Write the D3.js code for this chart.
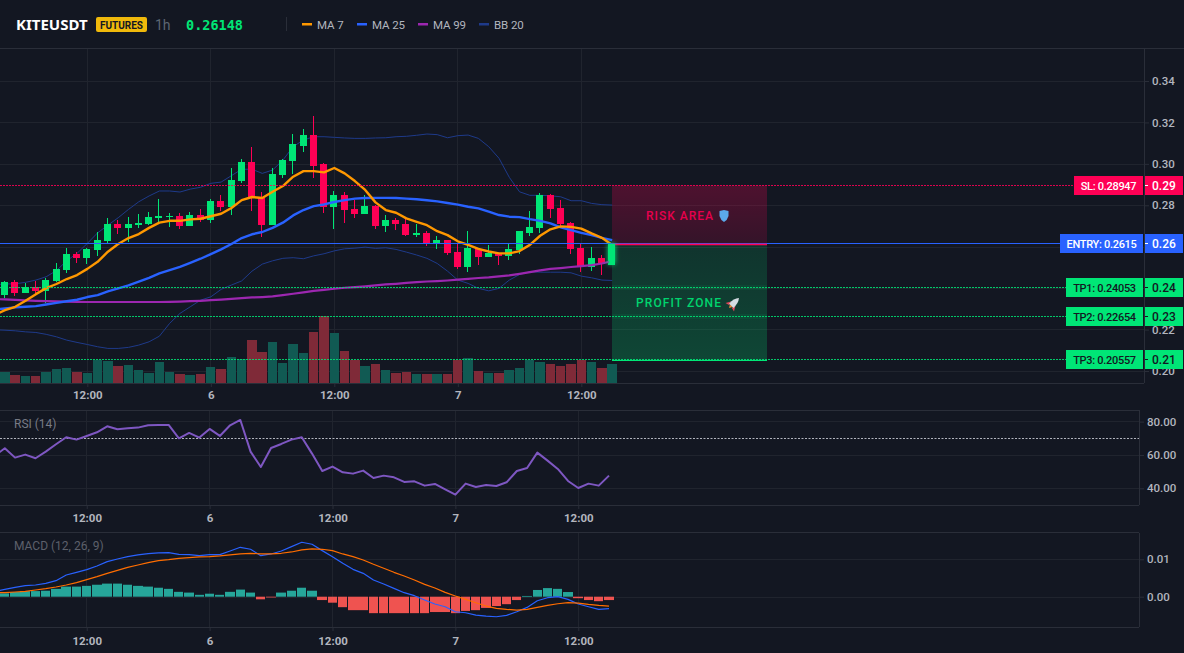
<!DOCTYPE html>
<html>
<head>
<meta charset="utf-8">
<script src="https://cdn.jsdelivr.net/npm/d3@7"></script>
<style>
html, body { margin: 0; padding: 0; background: #131722; overflow: hidden; }
svg { display: block; }
text { font-family: Roboto, sans-serif; }
</style>
</head>
<body>
<script>
var w = 1184;
var h = 653;

// candles
var opens = [.2366,.2429,.2376,.2405,.2386,.2434,.2487,.2564,.2545,.2584,
    .2627,.2709,.2690,.2704,.2709,.2738,.2743,.2748,.2700,.2753,
    .2729,.2820,.2791,.2917,.3009,.2835,.2704,.2946,.3013,.3086,
    .3139,.2999,.2791,.2849,.2782,.2758,.2796,.2700,.2729,.2709,
    .2656,.2666,.2613,.2632,.2574,.2502,.2589,.2550,.2569,.2555,
    .2584,.2666,.2690,.2849,.2786,.2714,.2593,.2502,.2545,.2516];
var highs = [.2434,.2439,.2424,.2434,.2449,.2521,.2593,.2574,.2593,.2671,
    .2738,.2729,.2743,.2758,.2767,.2830,.2762,.2762,.2767,.2782,
    .2830,.2849,.2980,.3023,.3081,.2864,.2980,.3023,.3144,.3168,
    .3231,.3004,.2869,.2864,.2825,.2849,.2801,.2753,.2738,.2733,
    .2709,.2676,.2651,.2632,.2613,.2676,.2589,.2608,.2569,.2618,
    .2676,.2772,.2859,.2854,.2825,.2719,.2613,.2598,.2560,.2615];
var lows = [.2352,.2362,.2376,.2366,.2328,.2429,.2473,.2521,.2516,.2555,
    .2613,.2661,.2622,.2690,.2704,.2719,.2695,.2685,.2700,.2719,
    .2714,.2772,.2753,.2907,.2772,.2647,.2704,.2931,.2951,.3057,
    .2931,.2762,.2685,.2714,.2738,.2758,.2685,.2671,.2680,.2651,
    .2647,.2603,.2589,.2560,.2492,.2477,.2511,.2550,.2511,.2535,
    .2564,.2651,.2666,.2738,.2700,.2564,.2477,.2482,.2463,.2516];
var closes = [.2429,.2376,.2405,.2386,.2439,.2492,.2564,.2545,.2589,.2632,
    .2709,.2690,.2709,.2714,.2743,.2748,.2748,.2700,.2753,.2729,
    .2820,.2791,.2922,.3009,.2835,.2704,.2951,.3018,.3096,.3139,
    .2989,.2791,.2849,.2777,.2758,.2796,.2700,.2729,.2709,.2656,
    .2666,.2613,.2632,.2569,.2502,.2593,.2550,.2569,.2555,.2589,
    .2676,.2695,.2849,.2782,.2709,.2589,.2502,.2545,.2516,.2615];
var volumes = [34,24,22,22,34,43,46,34,31,70,67,52,55,40,31,64,34,28,25,28,
    49,43,79,73,130,94,124,61,118,91,154,202,151,97,70,52,58,40,31,34,
    28,28,28,28,70,76,37,31,31,40,46,70,64,58,52,58,70,64,46,58];

// the line series start one bar left of the first candle (index -1)
var ma7 = [.2270,.2294,.2310,.2339,.2371,.2400,.2420,.2444,.2463,.2493,.2527,
    .2576,.2613,.2642,.2661,.2691,.2716,.2725,.2725,.2732,.2735,
    .2747,.2759,.2787,.2825,.2840,.2835,.2865,.2893,.2938,.2965,
    .2965,.2959,.2980,.2954,.2917,.2874,.2814,.2777,.2764,.2737,
    .2720,.2704,.2675,.2656,.2626,.2609,.2590,.2577,.2568,.2568,
    .2579,.2609,.2653,.2684,.2698,.2696,.2687,.2664,.2643,.2608];
var ma25 = [.2296,.2302,.2307,.2310,.2313,.2321,.2329,.2337,.2344,.2357,.2366,
    .2384,.2399,.2413,.2431,.2450,.2471,.2487,.2503,.2522,.2542,.2564,
    .2587,.2613,.2642,.2660,.2671,.2691,.2716,.2751,.2777,.2796,
    .2804,.2816,.2825,.2832,.2835,.2836,.2836,.2835,.2832,
    .2829,.2824,.2819,.2811,.2803,.2793,.2785,.2769,.2753,.2745,
    .2743,.2733,.2725,.2713,.2693,.2680,.2667,.2656,.2643,.2632];
var ma99 = [.2347,.2346,.2343,.2341,.2339,.2337,.2336,.2335,.2334,.2333,.2333,
    .2333,.2333,.2333,.2333,.2333,.2333,.2334,.2335,.2337,.2339,.2342,
    .2345,.2348,.2352,.2355,.2357,.2360,.2366,.2373,.2380,.2387,
    .2392,.2397,.2402,.2405,.2409,.2413,.2418,.2421,.2425,
    .2429,.2432,.2434,.2437,.2441,.2445,.2449,.2452,.2457,.2462,
    .2469,.2477,.2486,.2493,.2497,.2502,.2506,.2511,.2519,.2531];
var bbUpper = [.2417,.2420,.2421,.2428,.2439,.2455,.2485,.2532,.2568,.2616,.2667,
    .2704,.2740,.2780,.2817,.2845,.2869,.2869,.2864,.2878,.2887,.2906,
    .2912,.2943,.2974,.2974,.2954,.2970,.3018,.3083,.3115,.3131,
    .3131,.3128,.3125,.3123,.3123,.3125,.3126,.3131,.3133,
    .3138,.3144,.3141,.3126,.3136,.3139,.3123,.3083,.3027,.2935,
    .2865,.2848,.2848,.2846,.2841,.2822,.2822,.2809,.2803,.2801];
var bbLower = [.2199,.2197,.2194,.2189,.2186,.2177,.2165,.2149,.2138,.2128,.2117,
    .2109,.2109,.2114,.2125,.2141,.2168,.2230,.2278,.2310,.2342,.2358,
    .2394,.2415,.2435,.2482,.2516,.2532,.2544,.2547,.2542,.2556,
    .2566,.2580,.2590,.2593,.2598,.2592,.2595,.2587,.2574,
    .2560,.2544,.2519,.2482,.2439,.2423,.2399,.2387,.2399,.2439,
    .2466,.2479,.2477,.2477,.2477,.2474,.2458,.2450,.2439,.2437];

var rsi = [59.4,64,58.4,60.2,58,62,66.4,70.6,69.2,71.4,73.6,
    77.2,75.4,76,76.4,77.8,78,78,70,73.2,70.4,75.6,
    71.4,77.8,81,62,52.8,64.2,66.6,69.2,70.6,60.8,
    50.4,53,49.6,48.8,50.6,46.2,47.6,46.6,43.8,
    44.2,41.6,42.6,39.4,36.2,42.8,40.8,42,41.4,43.6,
    50.4,52.2,61.4,56.6,51.6,44.4,40.2,42.8,41.6,47.6];

var macdLine = [.00143,.00196,.0025,.00295,.00313,.00357,.00429,.0058,.00652,.00723,.00821,
    .00938,.01009,.01071,.01116,.01152,.0117,.01179,.01134,.01125,.01098,.01125,
    .01125,.01223,.01321,.01268,.01098,.01143,.01223,.01339,.01455,.01402,
    .01232,.01071,.00893,.00732,.00625,.00446,.00339,.00223,.00107,
    .00027,-.00089,-.00196,-.00268,-.00402,-.00429,-.00491,-.00518,-.00536,-.005,
    -.00402,-.00286,-.00107,-.00027,0,-.00071,-.00196,-.00268,-.00339,-.00321];
var macdSignal = [.00107,.00107,.00125,.00143,.00179,.00214,.00259,.00313,.00375,.00455,.00536,
    .00625,.00705,.00786,.00848,.00911,.00964,.00991,.01027,.01045,.01063,.01071,
    .01089,.01116,.01143,.01161,.01143,.01143,.01161,.01196,.0125,.01277,
    .01268,.01232,.01143,.01071,.00982,.00866,.00759,.00652,.00554,
    .00446,.0033,.00232,.00116,.00018,-.00071,-.00161,-.0025,-.00313,-.00339,
    -.00357,-.00339,-.00286,-.00232,-.00188,-.00161,-.0017,-.00205,-.00232,-.0025];
var macdHist = [.0009,.00125,.0015,.0015,.0016,.0021,.0027,.0027,.0029,.0032,
    .0035,.0035,.0032,.0029,.0027,.0024,.0021,.0013,.0011,.0005,
    .0008,.0005,.0013,.0019,.0011,-.0007,-.0002,.0011,.0016,.0024,
    .0016,-.0009,-.0016,-.0028,-.0036,-.0036,-.0044,-.0044,-.0044,-.0044,
    -.0044,-.0044,-.0041,-.0041,-.0044,-.0038,-.0036,-.0030,-.0025,-.0020,
    -.0009,.0002,.0018,.0023,.0021,.00125,-.0004,-.0009,-.0012,-.0009];

var priceGrid = [0.34, 0.32, 0.30, 0.28, 0.26, 0.24, 0.22, 0.20];
// 0.26 and 0.24 sit fully under the level tags, so only the others get a label
var priceTicks = [0.34, 0.32, 0.30, 0.28, 0.22, 0.20];
var rsiTicks = [80, 60, 40];
var macdTicks = [0.01, 0];
var timeTickIndex = [8, 20, 32, 44, 56];
var timeTickLabels = ["12:00", "6", "12:00", "7", "12:00"];

var levelNames = ["SL", "ENTRY", "TP1", "TP2", "TP3"];
var levelValues = [0.28947, 0.2615, 0.24053, 0.22654, 0.20557];
var levelRounded = ["0.29", "0.26", "0.24", "0.23", "0.21"];
var levelColors = ["#ff0055", "#2962ff", "#00e676", "#00e676", "#00e676"];
var levelTextColors = ["#ffffff", "#ffffff", "#131722", "#131722", "#131722"];
var levelLabelLeft = [1074, 1060, 1066, 1066, 1066];

var legendNames = ["MA 7", "MA 25", "MA 99", "BB 20"];
var legendColors = ["#ff9800", "#2962ff", "#9c27b0", "#1e3a8a"];
var legendLeft = [302, 357, 418, 479];

var gridColor = "#20242e";
var borderColor = "#2a2e39";
var labelColor = "#b2b5be";

var svg = d3.select("body")
    .append("svg")
    .attr("width", w)
    .attr("height", h);

var defs = svg.append("defs");
defs.append("clipPath").attr("id", "mainClip").append("rect")
    .attr("x", 0).attr("y", 48).attr("width", 1144).attr("height", 335);

var riskGrad = defs.append("linearGradient").attr("id", "riskGrad")
    .attr("x1", 0).attr("x2", 0).attr("y1", 0).attr("y2", 1);
riskGrad.append("stop").attr("offset", "0%").attr("stop-color", "#ff0055").attr("stop-opacity", 0.25);
riskGrad.append("stop").attr("offset", "100%").attr("stop-color", "#ff0055").attr("stop-opacity", 0.14);
var profitGrad = defs.append("linearGradient").attr("id", "profitGrad")
    .attr("x1", 0).attr("x2", 0).attr("y1", 0).attr("y2", 1);
profitGrad.append("stop").attr("offset", "0%").attr("stop-color", "#00e676").attr("stop-opacity", 0.14);
profitGrad.append("stop").attr("offset", "100%").attr("stop-color", "#00e676").attr("stop-opacity", 0.23);
defs.append("filter").attr("id", "glow")
    .attr("x", "-150%").attr("y", "-30%").attr("width", "400%").attr("height", "160%")
    .append("feGaussianBlur").attr("stdDeviation", 2.5);

// scales
var x = d3.scaleLinear().domain([0, 59]).range([5, 612.2]);
var subX = d3.scaleLinear().domain([0, 59]).range([4.8, 609]);
var y = d3.scaleLinear().domain([0.34, 0.20]).range([81, 371]);
var volY = d3.scaleLinear().domain([0, 202]).range([383.3, 316]);
var rsiY = d3.scaleLinear().domain([80, 40]).range([421.6, 488.3]);
var macdY = d3.scaleLinear().domain([0.01, 0]).range([559.3, 596.7]);

function pixelRow(v) { return Math.round(v - 0.2) + 0.5; }
function candleCol(i) { return Math.floor(x(i) - 0.4); }

// header
var head = svg.append("g");
head.append("text").attr("x", 16).attr("y", 30)
    .style("font-family", "'Noto Sans', sans-serif")
    .attr("font-size", 15).attr("font-weight", 700).attr("fill", "#ffffff")
    .text("KITEUSDT");
head.append("rect").attr("x", 96).attr("y", 17).attr("width", 51).attr("height", 15)
    .attr("rx", 2).attr("fill", "#f0b90b");
head.append("text").attr("x", 121.5).attr("y", 28.5).attr("text-anchor", "middle")
    .attr("font-size", 10).attr("font-weight", 700).attr("fill", "#131722")
    .text("FUTURES");
head.append("text").attr("x", 155).attr("y", 30)
    .attr("font-size", 14).attr("fill", "#5d6673")
    .text("1h");
head.append("text").attr("x", 186).attr("y", 29.5)
    .style("font-family", "'DejaVu Sans Mono', monospace")
    .attr("font-size", 13.5).attr("font-weight", 700).attr("fill", "#00e676")
    .text("0.26148");
head.append("line").attr("x1", 286.5).attr("x2", 286.5).attr("y1", 17).attr("y2", 31)
    .attr("stroke", borderColor);

var legend = head.selectAll("g.legend").data(legendNames).enter().append("g")
    .attr("class", "legend")
    .attr("transform", function(d, i) { return "translate(" + legendLeft[i] + ",0)"; });
legend.append("rect").attr("y", 23).attr("width", 10).attr("height", 2.5)
    .attr("fill", function(d, i) { return legendColors[i]; });
legend.append("text").attr("x", 15).attr("y", 28.5)
    .attr("font-size", 11.5).attr("letter-spacing", -0.1).attr("fill", labelColor)
    .text(function(d) { return d; });

// axes with the grid lines drawn as long lines
function priceAxis(g, scale, gridTicks, ticks, fmt, left, right) {
    var axis = d3.axisRight(scale).tickValues(ticks).tickFormat(fmt).tickSize(5).tickPadding(3);
    var a = g.append("g").attr("transform", "translate(" + right + ",0)").call(axis);
    a.select(".domain").remove();
    a.selectAll("line").attr("stroke", borderColor);
    a.selectAll("text").attr("fill", labelColor).attr("font-size", 11.5).attr("font-weight", 500)
        .style("font-family", "Roboto, sans-serif");
    g.append("g").selectAll("line").data(gridTicks).enter().append("line")
        .attr("x1", left).attr("x2", right)
        .attr("y1", function(d) { return pixelRow(scale(d)); })
        .attr("y2", function(d) { return pixelRow(scale(d)); })
        .attr("stroke", gridColor);
}
function timeAxis(g, scale, top, bottom, padding) {
    var axis = d3.axisBottom(scale).tickValues(timeTickIndex)
        .tickFormat(function(d, i) { return timeTickLabels[i]; })
        .tickSize(4).tickPadding(padding);
    var a = g.append("g").attr("transform", "translate(0," + bottom + ")").call(axis);
    a.select(".domain").remove();
    a.selectAll("line").attr("stroke", borderColor);
    a.selectAll("text").attr("fill", labelColor).attr("font-size", 11.5).attr("font-weight", 700)
        .style("font-family", "Roboto, sans-serif");
    g.append("g").selectAll("line").data(timeTickIndex).enter().append("line")
        .attr("x1", function(d) { return Math.floor(scale(d)) + 0.5; })
        .attr("x2", function(d) { return Math.floor(scale(d)) + 0.5; })
        .attr("y1", top).attr("y2", bottom)
        .attr("stroke", gridColor);
}

var fmt2 = d3.format(".2f");

// main pane
var grid = svg.append("g");
priceAxis(grid, y, priceGrid, priceTicks, fmt2, 0, 1144);
timeAxis(grid, x, 48, 383, 4);

var main = svg.append("g").attr("clip-path", "url(#mainClip)");

var upColor = "#00e676";
var downColor = "#ff0055";
function isUp(i) { return closes[i] >= opens[i]; }
var bars = d3.range(opens.length);

main.append("g").selectAll("rect").data(bars).enter().append("rect")
    .attr("x", function(i) { return Math.round(x(i) - 4.8); })
    .attr("width", function(i) { return Math.round(x(i) + 4.6) - Math.round(x(i) - 4.8); })
    .attr("y", function(i) { return Math.round(volY(volumes[i])); })
    .attr("height", function(i) { return 383 - Math.round(volY(volumes[i])); })
    .attr("fill", function(i) { return isUp(i) ? "#115a53" : "#7f2a38"; });

// price lines
var levels = svg.append("g");
levelValues.forEach(function(v, i) {
    levels.append("line")
        .attr("x1", 0).attr("x2", levelLabelLeft[i])
        .attr("y1", pixelRow(y(v))).attr("y2", pixelRow(y(v)))
        .attr("stroke", levelColors[i])
        .attr("stroke-opacity", levelNames[i] == "ENTRY" ? 1 : 0.85)
        .attr("stroke-dasharray", levelNames[i] == "ENTRY" ? null : "2,1");
});

// moving averages and bands
function lineOf(scale, xs) {
    return d3.line()
        .x(function(d, i) { return xs(i - 1); })
        .y(function(d) { return scale(d); });
}
var priceLine = lineOf(y, x);
function drawLine(g, values, gen, color, width) {
    g.append("path").attr("d", gen(values))
        .attr("fill", "none").attr("stroke", color).attr("stroke-width", width)
        .attr("stroke-linejoin", "round");
}
drawLine(main, bbUpper, priceLine, "#1e3a8a", 1);
drawLine(main, bbLower, priceLine, "#1e3a8a", 1);

// candles
var candles = main.append("g").selectAll("g").data(bars).enter().append("g");
candles.append("line")
    .attr("x1", function(i) { return candleCol(i) + 0.5; })
    .attr("x2", function(i) { return candleCol(i) + 0.5; })
    .attr("y1", function(i) { return Math.round(y(highs[i])); })
    .attr("y2", function(i) { return Math.round(y(lows[i])); })
    .attr("stroke", function(i) { return isUp(i) ? upColor : downColor; });
candles.append("rect")
    .attr("x", function(i) { return candleCol(i) - 3; })
    .attr("width", 7)
    .attr("y", function(i) { return Math.round(y(Math.max(opens[i], closes[i]))); })
    .attr("height", function(i) { return Math.max(1, Math.round(Math.abs(y(opens[i]) - y(closes[i])))); })
    .attr("fill", function(i) { return isUp(i) ? upColor : downColor; });

drawLine(main, ma99, priceLine, "#9c27b0", 2.2);
drawLine(main, ma25, priceLine, "#2962ff", 2.4);
drawLine(main, ma7, priceLine, "#ff9800", 2.4);

// risk and profit boxes
var boxLeft = 612;
var boxRight = 767;
var slY = pixelRow(y(levelValues[0]));
var entryY = pixelRow(y(levelValues[1])) + 1;
var tp3Y = pixelRow(y(levelValues[4])) + 1;
var zones = svg.append("g");
zones.append("rect").attr("x", boxLeft).attr("width", boxRight - boxLeft)
    .attr("y", slY).attr("height", entryY - slY).attr("fill", "url(#riskGrad)");
zones.append("rect").attr("x", boxLeft).attr("width", boxRight - boxLeft)
    .attr("y", entryY).attr("height", tp3Y - entryY).attr("fill", "url(#profitGrad)");
// soft bands where the TP lines run behind the box
[levelValues[2], levelValues[3]].forEach(function(v) {
    zones.append("line").attr("x1", boxLeft).attr("x2", boxRight)
        .attr("y1", pixelRow(y(v))).attr("y2", pixelRow(y(v)))
        .attr("stroke", "#00e676").attr("stroke-opacity", 0.07).attr("stroke-width", 5);
});
zones.append("line").attr("x1", boxLeft).attr("x2", boxRight)
    .attr("y1", entryY).attr("y2", entryY)
    .attr("stroke", "#ff0055").attr("stroke-width", 1.5);
zones.append("line").attr("x1", boxLeft).attr("x2", boxRight)
    .attr("y1", tp3Y).attr("y2", tp3Y)
    .attr("stroke", "#00e676").attr("stroke-width", 1.2);
zones.append("text").attr("x", 646).attr("y", 220)
    .attr("font-size", 12).attr("font-weight", 500).attr("letter-spacing", 1)
    .attr("fill", "#e6004d").text("RISK AREA");
zones.append("text").attr("x", 636).attr("y", 307)
    .attr("font-size", 12).attr("font-weight", 500).attr("letter-spacing", 1.1)
    .attr("fill", "#00d46e").text("PROFIT ZONE");

// shield and rocket icons
zones.append("path")
    .attr("transform", "translate(724,216)")
    .attr("d", "M-4.5,-5 L0,-6 L4.5,-5 L4.5,0 Q3.5,4 0,6 Q-3.5,4 -4.5,0 Z")
    .attr("fill", "#5ba8ea");
var rocket = zones.append("g").attr("transform", "translate(734,303) rotate(45)");
rocket.append("path").attr("d", "M-3,1 L-6,6 L-2,5 Z M3,1 L6,6 L2,5 Z").attr("fill", "#e0455a");
rocket.append("path").attr("d", "M0,-7 Q3.5,-3 3,4 L-3,4 Q-3.5,-3 0,-7 Z").attr("fill", "#d5dbe3");
rocket.append("path").attr("d", "M-1.8,4 L1.8,4 L0,7 Z").attr("fill", "#f08a3c");

// glow on the last candle
var last = opens.length - 1;
var glowG = svg.append("g");
glowG.append("rect")
    .attr("x", candleCol(last) - 3).attr("width", 7)
    .attr("y", y(closes[last]))
    .attr("height", y(opens[last]) - y(closes[last]))
    .attr("fill", upColor).attr("filter", "url(#glow)");
glowG.append("rect")
    .attr("x", candleCol(last) - 2).attr("width", 6)
    .attr("y", Math.round(y(closes[last])))
    .attr("height", Math.round(y(opens[last]) - y(closes[last])))
    .attr("fill", upColor);

// level tags on the right
var tags = svg.append("g");
levelValues.forEach(function(v, i) {
    var label = levelNames[i] + ": " + v;
    var cy = pixelRow(y(v));
    tags.append("rect").attr("x", levelLabelLeft[i]).attr("width", 1143 - levelLabelLeft[i])
        .attr("y", cy - 9.5).attr("height", 19).attr("fill", levelColors[i]);
    tags.append("text").attr("x", (levelLabelLeft[i] + 1143) / 2).attr("y", cy + 4)
        .attr("text-anchor", "middle").attr("font-size", 11).attr("letter-spacing", -0.3)
        .attr("font-weight", 500)
        .attr("fill", levelTextColors[i]).text(label);
    tags.append("rect").attr("x", 1144).attr("width", 39)
        .attr("y", cy - 9.5).attr("height", 19).attr("fill", levelColors[i]);
    tags.append("line").attr("x1", 1144).attr("x2", 1148).attr("y1", cy).attr("y2", cy)
        .attr("stroke", levelTextColors[i]);
    tags.append("text").attr("x", 1152).attr("y", cy + 4.3)
        .attr("font-size", 12).attr("font-weight", 500)
        .attr("fill", levelTextColors[i]).text(levelRounded[i]);
});

// RSI pane
var rsiPane = svg.append("g");
priceAxis(rsiPane, rsiY, rsiTicks, rsiTicks, fmt2, 0, 1139);
timeAxis(rsiPane, subX, 410, 505, 5);
rsiPane.append("line").attr("x1", 0).attr("x2", 1139)
    .attr("y1", pixelRow(rsiY(70))).attr("y2", pixelRow(rsiY(70)))
    .attr("stroke", "#b2b5be").attr("stroke-dasharray", "2,1.5");
drawLine(rsiPane, rsi, lineOf(rsiY, subX), "#7e57c2", 2);
rsiPane.append("text").attr("x", 14).attr("y", 428)
    .attr("font-size", 12).attr("fill", "#787b86").text("RSI (14)");

// MACD pane
var macdPane = svg.append("g");
priceAxis(macdPane, macdY, macdTicks, macdTicks, fmt2, 0, 1139);
timeAxis(macdPane, subX, 533, 627, 6);
macdPane.append("g").selectAll("rect").data(macdHist).enter().append("rect")
    .attr("x", function(d, i) { return Math.round(subX(i) - 4.8); })
    .attr("width", function(d, i) { return Math.round(subX(i) + 4.6) - Math.round(subX(i) - 4.8); })
    .attr("y", function(d) { return macdY(Math.max(d, 0)); })
    .attr("height", function(d) { return Math.abs(macdY(d) - macdY(0)); })
    .attr("fill", function(d) { return d >= 0 ? "#26a69a" : "#ef5350"; });
drawLine(macdPane, macdLine, lineOf(macdY, subX), "#2962ff", 1.2);
drawLine(macdPane, macdSignal, lineOf(macdY, subX), "#ff6d00", 1.2);
macdPane.append("text").attr("x", 14).attr("y", 550)
    .attr("font-size", 12).attr("fill", "#5d606b").text("MACD (12, 26, 9)");

// pane borders
var borders = svg.append("g").attr("stroke", borderColor);
borders.append("line").attr("x1", 0).attr("x2", 1184).attr("y1", 48.5).attr("y2", 48.5);
borders.append("line").attr("x1", 0).attr("x2", 1144).attr("y1", 383.5).attr("y2", 383.5);
[410.5, 505.5, 532.5, 627.5].forEach(function(yy) {
    borders.append("line").attr("x1", 0).attr("x2", 1139)
        .attr("y1", yy).attr("y2", yy);
});
borders.append("line").attr("x1", 1144.5).attr("x2", 1144.5).attr("y1", 48).attr("y2", 383);
borders.append("line").attr("x1", 1139.5).attr("x2", 1139.5).attr("y1", 410).attr("y2", 505);
borders.append("line").attr("x1", 1139.5).attr("x2", 1139.5).attr("y1", 533).attr("y2", 627);
</script>
</body>
</html>
